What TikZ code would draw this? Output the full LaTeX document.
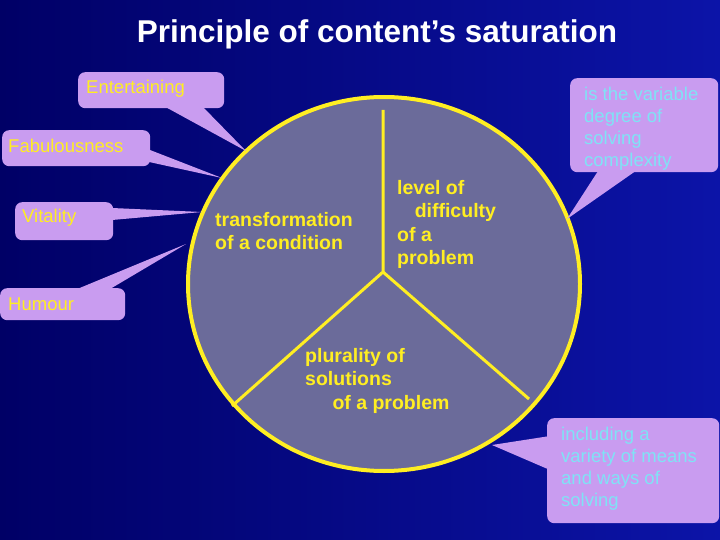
\documentclass[tikz,border=0pt]{standalone}
\usepackage{fontspec}
\setmainfont{Liberation Sans}
\usetikzlibrary{calc,shapes.geometric}
\definecolor{bgA}{HTML}{000066}
\definecolor{bgB}{HTML}{0C14A8}
\definecolor{call}{HTML}{C99CF0}
\definecolor{pie}{HTML}{6B6B9A}
\definecolor{ylw}{HTML}{FFEE22}
\definecolor{cyn}{HTML}{7FE3F5}
\tikzset{
  callbox/.style={fill=call,rounded corners=7pt,inner sep=0pt,anchor=north west},
  ltext/.style={text=ylw,anchor=west,inner sep=0pt,font=\fontsize{18.5}{22}\selectfont},
  rtext/.style={text=cyn,align=left,anchor=north west,inner sep=0pt,font=\fontsize{18.5}{22}\selectfont},
  ptr/.style={fill=call},
  inner/.style={text=ylw,font=\bfseries\fontsize{19.5}{23.5}\selectfont,align=left,anchor=north west,inner sep=0pt},
  divider/.style={draw=ylw,line width=3pt}
}
\begin{document}
\begin{tikzpicture}[x=1pt,y=-1pt]
\shade[left color=bgA,right color=bgB] (0,0) rectangle (720,540);
\useasboundingbox (0,0) rectangle (720,540);
\node[text=white,font=\bfseries\fontsize{31.5}{36}\selectfont] (title) at (377,34) {Principle of content’s saturation};
% pie
\node[ellipse,draw=ylw,fill=pie,line width=4pt,minimum width=392pt,minimum height=374pt,inner sep=0pt] (pie) at (384,284) {};
\coordinate (c) at (383,272);
\coordinate (t) at (383,110);
\coordinate (bl) at (232,406);
\coordinate (br) at (529,399);
\draw[divider] (t) -- (c) -- (bl);
\draw[divider] (c) -- (br);
\node[inner] (n1) at (215,212) {transformation\\of a condition};
\node[inner] (n2) at (397,180) {level of\\\hspace{0.9em}difficulty\\of a\\problem};
\node[inner] (n3) at (305,348) {plurality of\\solutions\\\hspace{1.4em}of a problem};
% callouts
\coordinate (pE) at (246,151);
\coordinate (pF) at (222,178);
\coordinate (pV) at (202,212);
\coordinate (pH) at (186,244);
\coordinate (pR) at (567,219);
\coordinate (pB) at (492,445);
\fill[ptr] (160,104) -- (pE) -- (200,104) -- cycle;
\fill[ptr] (140,160) -- (pF) -- (150,150) -- cycle;
\fill[ptr] (112,208) -- (pV) -- (112,220) -- cycle;
\fill[ptr] (70,292) -- (pH) -- (105,292) -- cycle;
\fill[ptr] (600,168) -- (pR) -- (640,168) -- cycle;
\fill[ptr] (550,436) -- (pB) -- (550,470) -- cycle;
\node[callbox,minimum width=146pt,minimum height=36pt] (E) at (78,72) {};
\node[ltext] (Et) at (86,89) {Entertaining};
\node[callbox,minimum width=148pt,minimum height=36pt] (F) at (2,130) {};
\node[ltext] (Ft) at (8,146) {Fabulousness};
\node[callbox,minimum width=98pt,minimum height=38pt] (V) at (15,202) {};
\node[ltext] (Vt) at (22,218) {Vitality};
\node[callbox,minimum width=125pt,minimum height=32pt] (H) at (0,288) {};
\node[ltext] (Ht) at (8,304) {Humour};
\node[callbox,minimum width=148pt,minimum height=94pt] (R) at (570,78) {};
\node[rtext] (Rt) at (584,87) {is the variable\\degree of\\solving\\complexity};
\node[callbox,minimum width=172pt,minimum height=105pt] (B) at (547,418) {};
\node[rtext] (Bt) at (561,427) {including a\\variety of means\\and ways of\\solving};
\end{tikzpicture}
\end{document}
